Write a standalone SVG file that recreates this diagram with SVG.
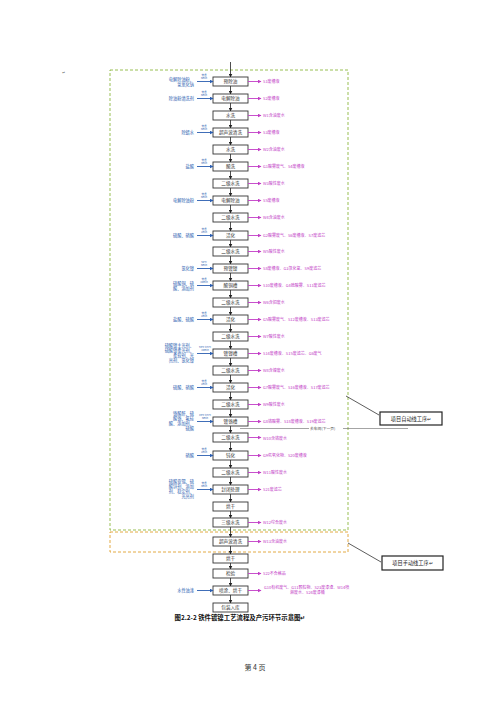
<svg xmlns="http://www.w3.org/2000/svg" width="500" height="707" viewBox="0 0 500 707">
<defs>
<marker id="ak" markerWidth="4" markerHeight="4" refX="3.5" refY="2" orient="auto" markerUnits="userSpaceOnUse"><path d="M0,0 L4,2 L0,4 z" fill="#222"/></marker>
<marker id="ab" markerWidth="4" markerHeight="4" refX="3.5" refY="2" orient="auto" markerUnits="userSpaceOnUse"><path d="M0,0 L4,2 L0,4 z" fill="#2a5db0"/></marker>
<marker id="ap" markerWidth="4" markerHeight="4" refX="3.5" refY="2" orient="auto" markerUnits="userSpaceOnUse"><path d="M0,0 L4,2 L0,4 z" fill="#c23cc6"/></marker>
</defs>
<style>
.bx{fill:#fff;stroke:#333;stroke-width:0.9}
.t{font-family:"Noto Sans CJK SC","Liberation Sans",sans-serif}
.lb{font-size:4.6px;fill:#333;text-anchor:middle}
.in{font-size:4.2px;fill:#2a5db0;text-anchor:end}
.pm{font-size:2.6px;fill:#2a5db0;text-anchor:middle}
.out{font-size:4px;fill:#c23cc6}
.v{stroke:#222;stroke-width:0.8;marker-end:url(#ak)}
.bl{stroke:#2a5db0;stroke-width:0.9;marker-end:url(#ab)}
.pk{stroke:#c23cc6;stroke-width:0.9;marker-end:url(#ap)}
</style>
<rect width="500" height="707" fill="#fff"/>
<text x="62" y="74" class="t" font-size="4" fill="#666">↵</text>
<rect x="110" y="70" width="238" height="460" fill="none" stroke="#8cb840" stroke-width="0.9" stroke-dasharray="3,2"/>
<rect x="110" y="532" width="238" height="20" fill="none" stroke="#e0a030" stroke-width="0.9" stroke-dasharray="3,2"/>
<g id="connectors">
<line x1="230.5" y1="62" x2="230.5" y2="77" class="v"/>
<line x1="230.5" y1="86" x2="230.5" y2="94" class="v"/>
<line x1="230.5" y1="103" x2="230.5" y2="111" class="v"/>
<line x1="230.5" y1="120" x2="230.5" y2="128" class="v"/>
<line x1="230.5" y1="137" x2="230.5" y2="145" class="v"/>
<line x1="230.5" y1="154" x2="230.5" y2="162" class="v"/>
<line x1="230.5" y1="171" x2="230.5" y2="179" class="v"/>
<line x1="230.5" y1="188" x2="230.5" y2="196" class="v"/>
<line x1="230.5" y1="205" x2="230.5" y2="213" class="v"/>
<line x1="230.5" y1="222" x2="230.5" y2="231" class="v"/>
<line x1="230.5" y1="240" x2="230.5" y2="247" class="v"/>
<line x1="230.5" y1="256" x2="230.5" y2="264" class="v"/>
<line x1="230.5" y1="273" x2="230.5" y2="281" class="v"/>
<line x1="230.5" y1="290" x2="230.5" y2="298" class="v"/>
<line x1="230.5" y1="307" x2="230.5" y2="315" class="v"/>
<line x1="230.5" y1="324" x2="230.5" y2="332" class="v"/>
<line x1="230.5" y1="341" x2="230.5" y2="349" class="v"/>
<line x1="230.5" y1="358" x2="230.5" y2="366" class="v"/>
<line x1="230.5" y1="375" x2="230.5" y2="383" class="v"/>
<line x1="230.5" y1="392" x2="230.5" y2="400" class="v"/>
<line x1="230.5" y1="409" x2="230.5" y2="417" class="v"/>
<line x1="230.5" y1="426" x2="230.5" y2="433" class="v"/>
<line x1="230.5" y1="442" x2="230.5" y2="451" class="v"/>
<line x1="230.5" y1="460" x2="230.5" y2="468" class="v"/>
<line x1="230.5" y1="477" x2="230.5" y2="485" class="v"/>
<line x1="230.5" y1="494" x2="230.5" y2="502" class="v"/>
<line x1="230.5" y1="511" x2="230.5" y2="518" class="v"/>
<line x1="230.5" y1="527" x2="230.5" y2="537" class="v"/>
<line x1="230.5" y1="546" x2="230.5" y2="554" class="v"/>
<line x1="230.5" y1="563" x2="230.5" y2="569" class="v"/>
<line x1="230.5" y1="578" x2="230.5" y2="586" class="v"/>
<line x1="230.5" y1="595" x2="230.5" y2="603" class="v"/>
<line x1="240" y1="428.5" x2="408" y2="428.5" stroke="#666" stroke-width="0.6"/>
<line x1="346" y1="396" x2="379" y2="415" stroke="#333" stroke-width="0.8"/>
<line x1="348" y1="543" x2="381" y2="562" stroke="#333" stroke-width="0.8"/>
</g>
<g id="n1"><rect class="bx" x="213" y="77" width="35" height="9"/><text class="t lb" x="230.5" y="83.2">预除油</text>
<text class="t in" x="194" y="80.5">电解除油粉、</text><text class="t in" x="194" y="85.5">氢氧化钠</text><line class="bl" x1="197" y1="81.5" x2="213" y2="81.5"/><text class="t pm" x="204" y="76">常温</text><text class="t pm" x="204" y="79">5min</text>
<line class="pk" x1="248" y1="81.5" x2="261" y2="81.5"/><text class="t out" x="263" y="83">S1废槽液</text></g>
<g id="n2"><rect class="bx" x="213" y="94" width="35" height="9"/><text class="t lb" x="230.5" y="100.2">电解除油</text>
<text class="t in" x="194" y="100">除油粉清洗剂</text><line class="bl" x1="197" y1="98.5" x2="213" y2="98.5"/><text class="t pm" x="204" y="93">常温</text><text class="t pm" x="204" y="96">5min</text>
<line class="pk" x1="248" y1="98.5" x2="261" y2="98.5"/><text class="t out" x="263" y="100">S2废槽液</text></g>
<g id="n3"><rect class="bx" x="213" y="111" width="35" height="9"/><text class="t lb" x="230.5" y="117.2">水洗</text>
<line class="pk" x1="248" y1="115.5" x2="261" y2="115.5"/><text class="t out" x="263" y="117">W1含油废水</text></g>
<g id="n4"><rect class="bx" x="213" y="128" width="35" height="9"/><text class="t lb" x="230.5" y="134.2">超声波清洗</text>
<text class="t in" x="194" y="134">除蜡水</text><line class="bl" x1="197" y1="132.5" x2="213" y2="132.5"/><text class="t pm" x="204" y="127">常温</text><text class="t pm" x="204" y="130">5min</text>
<line class="pk" x1="248" y1="132.5" x2="261" y2="132.5"/><text class="t out" x="263" y="134">S3废槽液</text></g>
<g id="n5"><rect class="bx" x="213" y="145" width="35" height="9"/><text class="t lb" x="230.5" y="151.2">水洗</text>
<line class="pk" x1="248" y1="149.5" x2="261" y2="149.5"/><text class="t out" x="263" y="151">W2含油废水</text></g>
<g id="n6"><rect class="bx" x="213" y="162" width="35" height="9"/><text class="t lb" x="230.5" y="168.2">酸洗</text>
<text class="t in" x="194" y="168">盐酸</text><line class="bl" x1="197" y1="166.5" x2="213" y2="166.5"/><text class="t pm" x="204" y="161">常温</text><text class="t pm" x="204" y="164">3min</text>
<line class="pk" x1="248" y1="166.5" x2="261" y2="166.5"/><text class="t out" x="263" y="168">G1酸雾废气、S4废槽液</text></g>
<g id="n7"><rect class="bx" x="213" y="179" width="35" height="9"/><text class="t lb" x="230.5" y="185.2">二级水洗</text>
<line class="pk" x1="248" y1="183.5" x2="261" y2="183.5"/><text class="t out" x="263" y="185">W3酸性废水</text></g>
<g id="n8"><rect class="bx" x="213" y="196" width="35" height="9"/><text class="t lb" x="230.5" y="202.2">电解除油</text>
<text class="t in" x="194" y="202">电解除油粉</text><line class="bl" x1="197" y1="200.5" x2="213" y2="200.5"/><text class="t pm" x="204" y="195">常温</text><text class="t pm" x="204" y="198">5min</text>
<line class="pk" x1="248" y1="200.5" x2="261" y2="200.5"/><text class="t out" x="263" y="202">S5废槽液</text></g>
<g id="n9"><rect class="bx" x="213" y="213" width="35" height="9"/><text class="t lb" x="230.5" y="219.2">二级水洗</text>
<line class="pk" x1="248" y1="217.5" x2="261" y2="217.5"/><text class="t out" x="263" y="219">W4含油废水</text></g>
<g id="n10"><rect class="bx" x="213" y="231" width="35" height="9"/><text class="t lb" x="230.5" y="237.2">活化</text>
<text class="t in" x="194" y="237">硫酸、硝酸</text><line class="bl" x1="197" y1="235.5" x2="213" y2="235.5"/><text class="t pm" x="204" y="230">常温</text><text class="t pm" x="204" y="233">1min</text>
<line class="pk" x1="248" y1="235.5" x2="261" y2="235.5"/><text class="t out" x="263" y="237">G2酸雾废气、S6废槽液、S7废滤芯</text></g>
<g id="n11"><rect class="bx" x="213" y="247" width="35" height="9"/><text class="t lb" x="230.5" y="253.2">二级水洗</text>
<line class="pk" x1="248" y1="251.5" x2="261" y2="251.5"/><text class="t out" x="263" y="253">W5酸性废水</text></g>
<g id="n12"><rect class="bx" x="213" y="264" width="35" height="9"/><text class="t lb" x="230.5" y="270.2">预镀镍</text>
<text class="t in" x="194" y="270">氯化镍</text><line class="bl" x1="197" y1="268.5" x2="213" y2="268.5"/><text class="t pm" x="204" y="263">50℃</text><text class="t pm" x="204" y="266">5min</text>
<line class="pk" x1="248" y1="268.5" x2="261" y2="268.5"/><text class="t out" x="263" y="270">S8废槽液、G3氯化氢、S9废滤芯</text></g>
<g id="n13"><rect class="bx" x="213" y="281" width="35" height="9"/><text class="t lb" x="230.5" y="287.2">酸铜槽</text>
<text class="t in" x="194" y="284.5">硫酸铜、硫</text><text class="t in" x="194" y="289.5">酸、添加剂</text><line class="bl" x1="197" y1="285.5" x2="213" y2="285.5"/><text class="t pm" x="204" y="280">常温</text><text class="t pm" x="204" y="283">20min</text>
<line class="pk" x1="248" y1="285.5" x2="261" y2="285.5"/><text class="t out" x="263" y="287">S10废槽液、G4硫酸雾、S11废滤芯</text></g>
<g id="n14"><rect class="bx" x="213" y="298" width="35" height="9"/><text class="t lb" x="230.5" y="304.2">二级水洗</text>
<line class="pk" x1="248" y1="302.5" x2="261" y2="302.5"/><text class="t out" x="263" y="304">W6含铜废水</text></g>
<g id="n15"><rect class="bx" x="213" y="315" width="35" height="9"/><text class="t lb" x="230.5" y="321.2">活化</text>
<text class="t in" x="194" y="321">盐酸、硫酸</text><line class="bl" x1="197" y1="319.5" x2="213" y2="319.5"/><text class="t pm" x="204" y="314">常温</text><text class="t pm" x="204" y="317">1min</text>
<line class="pk" x1="248" y1="319.5" x2="261" y2="319.5"/><text class="t out" x="263" y="321">G5酸雾废气、S12废槽液、S13废滤芯</text></g>
<g id="n16"><rect class="bx" x="213" y="332" width="35" height="9"/><text class="t lb" x="230.5" y="338.2">二级水洗</text>
<line class="pk" x1="248" y1="336.5" x2="261" y2="336.5"/><text class="t out" x="263" y="338">W7酸性废水</text></g>
<g id="n17"><rect class="bx" x="213" y="349" width="35" height="9"/><text class="t lb" x="230.5" y="355.2">镀镍槽</text>
<text class="t in" x="194" y="347">硫酸镍主光剂、</text><text class="t in" x="194" y="352">硫酸镍柔光剂、</text><text class="t in" x="194" y="357">柔软剂、光</text><text class="t in" x="194" y="362">亮剂、氯化镍</text><line class="bl" x1="197" y1="353.5" x2="213" y2="353.5"/><text class="t pm" x="205" y="348">55℃±5℃</text><text class="t pm" x="205" y="351">20min</text>
<line class="pk" x1="248" y1="353.5" x2="261" y2="353.5"/><text class="t out" x="263" y="355">S14废槽液、S15废滤芯、G6废气</text></g>
<g id="n18"><rect class="bx" x="213" y="366" width="35" height="9"/><text class="t lb" x="230.5" y="372.2">二级水洗</text>
<line class="pk" x1="248" y1="370.5" x2="261" y2="370.5"/><text class="t out" x="263" y="372">W8含镍废水</text></g>
<g id="n19"><rect class="bx" x="213" y="383" width="35" height="9"/><text class="t lb" x="230.5" y="389.2">活化</text>
<text class="t in" x="194" y="389">硫酸、硝酸</text><line class="bl" x1="197" y1="387.5" x2="213" y2="387.5"/><text class="t pm" x="204" y="382">常温</text><text class="t pm" x="204" y="385">1min</text>
<line class="pk" x1="248" y1="387.5" x2="261" y2="387.5"/><text class="t out" x="263" y="389">G7酸雾废气、S16废槽液、S17废滤芯</text></g>
<g id="n20"><rect class="bx" x="213" y="400" width="35" height="9"/><text class="t lb" x="230.5" y="406.2">二级水洗</text>
<line class="pk" x1="248" y1="404.5" x2="261" y2="404.5"/><text class="t out" x="263" y="406">W9酸性废水</text></g>
<g id="n21"><rect class="bx" x="213" y="417" width="35" height="9"/><text class="t lb" x="230.5" y="423.2">镀铬槽</text>
<text class="t in" x="194" y="415">铬酸酐、硫</text><text class="t in" x="194" y="420">酸铬、氟硅</text><text class="t in" x="194" y="425">酸、添加剂、</text><text class="t in" x="194" y="430">硫酸</text><line class="bl" x1="197" y1="421.5" x2="213" y2="421.5"/><text class="t pm" x="205" y="416">45℃±5℃</text><text class="t pm" x="205" y="419">5min</text>
<line class="pk" x1="248" y1="421.5" x2="261" y2="421.5"/><text class="t out" x="263" y="423">G8铬酸雾、S18废槽液、S19废滤芯</text>
<rect x="309" y="426.5" width="34" height="4" fill="#fff"/><text class="t" x="310" y="430" font-size="3.8" fill="#444">去车间(下一页)</text></g>
<g id="n22"><rect class="bx" x="213" y="433" width="35" height="9"/><text class="t lb" x="230.5" y="439.2">二级水洗</text>
<line class="pk" x1="248" y1="437.5" x2="261" y2="437.5"/><text class="t out" x="263" y="439.5">W10含铬废水</text></g>
<g id="n23"><rect class="bx" x="213" y="451" width="35" height="9"/><text class="t lb" x="230.5" y="457.2">钝化</text>
<text class="t in" x="194" y="457">硝酸</text><line class="bl" x1="197" y1="455.5" x2="213" y2="455.5"/><text class="t pm" x="204" y="450">常温</text><text class="t pm" x="204" y="453">1min</text>
<line class="pk" x1="248" y1="455.5" x2="261" y2="455.5"/><text class="t out" x="263" y="457">G9氮氧化物、S20废槽液</text></g>
<g id="n24"><rect class="bx" x="213" y="468" width="35" height="9"/><text class="t lb" x="230.5" y="474.2">二级水洗</text>
<line class="pk" x1="248" y1="472.5" x2="261" y2="472.5"/><text class="t out" x="263" y="474">W11酸性废水</text></g>
<g id="n25"><rect class="bx" x="213" y="485" width="35" height="9"/><text class="t lb" x="230.5" y="491.2">封闭处理</text>
<text class="t in" x="194" y="483">硫酸亚锡、硫</text><text class="t in" x="194" y="488">酸锌剂、添加</text><text class="t in" x="194" y="493">剂、稳定剂、</text><text class="t in" x="194" y="498">光亮剂</text><line class="bl" x1="197" y1="489.5" x2="213" y2="489.5"/><text class="t pm" x="204" y="484">常温</text><text class="t pm" x="204" y="487">3min</text>
<line class="pk" x1="248" y1="489.5" x2="261" y2="489.5"/><text class="t out" x="263" y="491">S21废滤芯</text></g>
<g id="n26"><rect class="bx" x="213" y="502" width="35" height="9"/><text class="t lb" x="230.5" y="508.2">烘干</text></g>
<g id="n27"><rect class="bx" x="213" y="518" width="35" height="9"/><text class="t lb" x="230.5" y="524.2">三级水洗</text>
<line class="pk" x1="248" y1="522.5" x2="261" y2="522.5"/><text class="t out" x="263" y="524">W12综合废水</text></g>
<g id="n28"><rect class="bx" x="213" y="537" width="35" height="9"/><text class="t lb" x="230.5" y="543.2">超声波清洗</text>
<line class="pk" x1="248" y1="541.5" x2="261" y2="541.5"/><text class="t out" x="263" y="543">W13含油废水</text></g>
<g id="n29"><rect class="bx" x="213" y="554" width="35" height="9"/><text class="t lb" x="230.5" y="560.2">烘干</text></g>
<g id="n30"><rect class="bx" x="213" y="569" width="35" height="9"/><text class="t lb" x="230.5" y="575.2">检验</text>
<line class="pk" x1="248" y1="573.5" x2="261" y2="573.5"/><text class="t out" x="263" y="575">S22不合格品</text></g>
<g id="n31"><rect class="bx" x="213" y="586" width="35" height="9"/><text class="t lb" x="230.5" y="592.2">喷涂、烘干</text>
<text class="t in" x="194" y="592">水性油漆</text><line class="bl" x1="197" y1="590.5" x2="213" y2="590.5"/>
<line class="pk" x1="248" y1="590.5" x2="261" y2="590.5"/><text class="t out" x="264" y="588.5">G10有机废气、G11颗粒物、S23废漆渣、W14喷</text><text class="t out" x="290" y="594">淋废水、S24废漆桶</text></g>
<g id="n32"><rect class="bx" x="213" y="603" width="35" height="9"/><text class="t lb" x="230.5" y="609.2">包装入库</text></g>
<g id="label-auto"><rect x="380" y="412" width="62" height="13" fill="#fff" stroke="#222" stroke-width="1.2"/><text class="t" x="411" y="420.5" font-size="5.2" text-anchor="middle" fill="#222">项目自动线工序↵</text></g>
<g id="label-manual"><rect x="382" y="556" width="61" height="14" fill="#fff" stroke="#222" stroke-width="1.2"/><text class="t" x="412.5" y="565" font-size="5.2" text-anchor="middle" fill="#222">项目手动线工序↵</text></g>
<text class="t" x="240" y="619.5" font-size="6.4" font-weight="bold" text-anchor="middle" fill="#111">图2.2-2  铁件镀镍工艺流程及产污环节示意图↵</text>
<text x="255" y="670" font-family="'Noto Sans CJK SC','Liberation Serif',serif" font-size="7" text-anchor="middle" fill="#333">第 4 页</text>
</svg>
